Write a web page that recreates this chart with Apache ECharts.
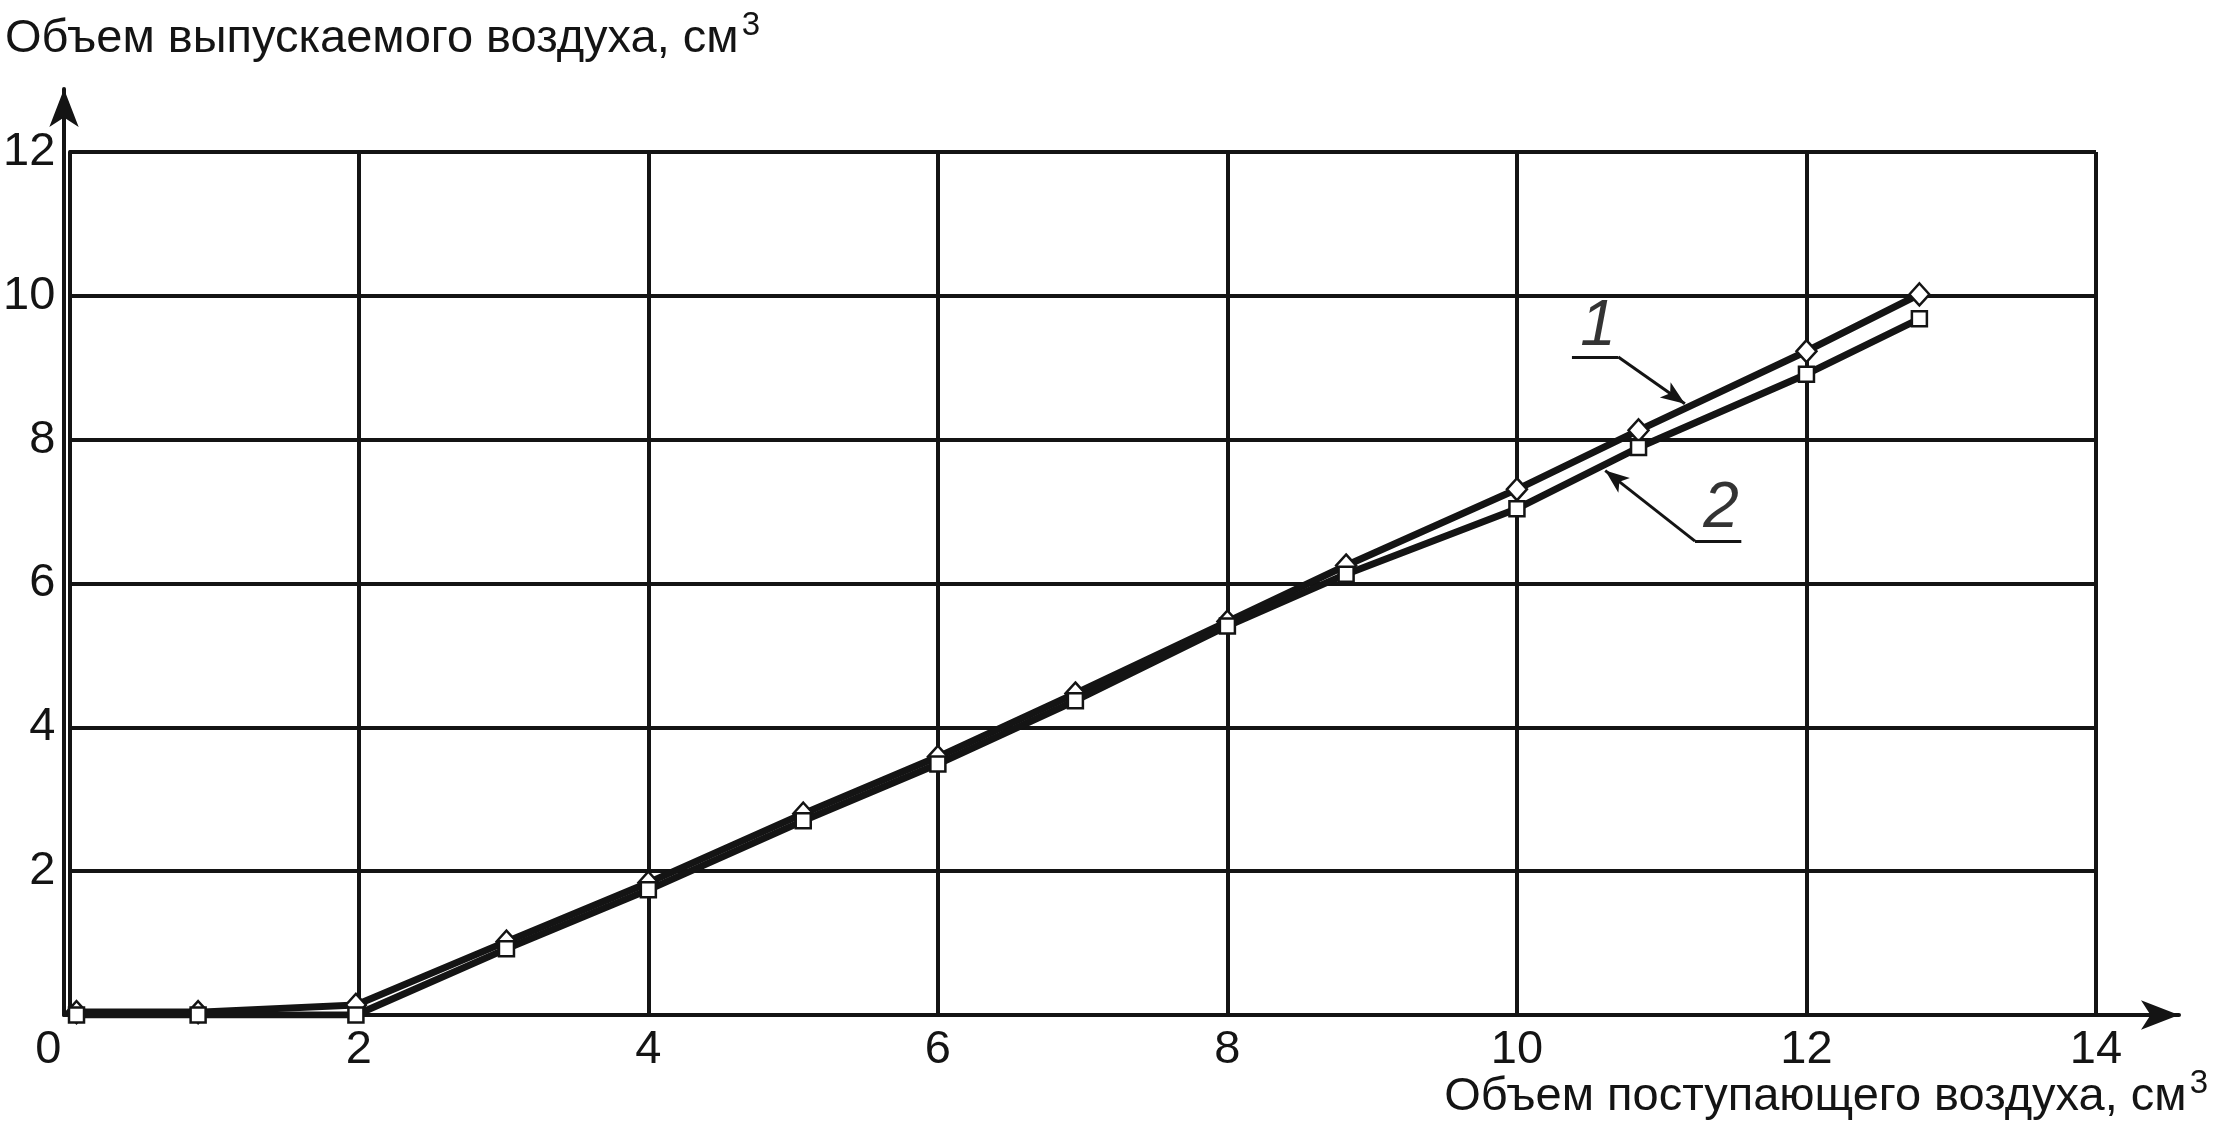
<!DOCTYPE html>
<html>
<head>
<meta charset="utf-8">
<script src="https://cdn.jsdelivr.net/npm/echarts@6/dist/echarts.min.js"></script>
<style>
  html, body { margin: 0; padding: 0; background: #ffffff; }
  #chart { width: 2213px; height: 1133px; }
</style>
</head>
<body>
<div id="chart"></div>
<script>
// ---- Data ----
const inflowVolume = [0.05, 0.89, 1.98, 3.02, 4.0, 5.07, 6.0, 6.95, 8.0, 8.82, 10.0, 10.84, 12.0, 12.78];
const outflowCurve1 = [0.04, 0.04, 0.14, 1.02, 1.84, 2.80, 3.59, 4.47, 5.47, 6.25, 7.31, 8.13, 9.23, 10.02];
const outflowCurve2 = [0.0, 0.0, 0.0, 0.92, 1.74, 2.70, 3.49, 4.37, 5.41, 6.13, 7.04, 7.89, 8.91, 9.68];
const xTicks = [0, 2, 4, 6, 8, 10, 12, 14];
const yTicks = [0, 2, 4, 6, 8, 10, 12];
const curveNames = ['1', '2'];
// annotation anchors (data coordinates): label centre, underline start/end, arrow tip
const label1 = [10.56, 9.57];
const leader1 = [[10.38, 9.15], [10.70, 9.15], [11.16, 8.50]];
const label2 = [11.41, 7.04];
const leader2 = [[11.55, 6.59], [11.23, 6.59], [10.61, 7.57]];
const yTitle = 'Объем выпускаемого воздуха, см';
const xTitle = 'Объем поступающего воздуха, см';

const FONT = "'Liberation Sans', Arial, sans-serif";
const INK = '#141414';

const chart = echarts.init(document.getElementById('chart'), null, { renderer: 'canvas' });

const pts1 = inflowVolume.map((x, i) => [x, outflowCurve1[i]]);
const pts2 = inflowVolume.map((x, i) => [x, outflowCurve2[i]]);

function leaderData(seg) {
  return [
    [{ coord: seg[0], symbol: 'none' }, { coord: seg[1], symbol: 'none' }],
    [{ coord: seg[1], symbol: 'none' }, { coord: seg[2], symbol: 'arrow' }]
  ];
}

const titleRich = {
  a: { fontFamily: FONT, fontSize: 47, fontWeight: 'normal', color: INK },
  s: { fontFamily: FONT, fontSize: 33, fontWeight: 'normal', color: INK, verticalAlign: 'top', padding: [0, 0, 28, 3] }
};

const option = {
  backgroundColor: '#ffffff',
  animation: false,
  textStyle: { fontFamily: FONT },
  title: [
    {
      left: 0, top: 4,
      text: '{a|' + yTitle + '}{s|3}',
      textStyle: { fontWeight: 'normal', rich: titleRich }
    },
    {
      right: 0, top: 1062,
      text: '{a|' + xTitle + '}{s|3}',
      textStyle: { fontWeight: 'normal', rich: titleRich }
    }
  ],
  grid: [
    { left: 64, right: 117, top: 152, bottom: 118, containLabel: false },
    { left: 64, right: 34, top: 89, bottom: 118, containLabel: false }
  ],
  xAxis: [
    {
      type: 'value', gridIndex: 0, min: xTicks[0], max: xTicks[xTicks.length - 1], interval: xTicks[1] - xTicks[0],
      axisLine: { show: true, lineStyle: { color: INK, width: 4 } },
      axisTick: { show: false },
      splitLine: { show: true, lineStyle: { color: INK, width: 4 } },
      axisLabel: {
        margin: 12, fontSize: 47, color: INK, fontFamily: FONT,
        formatter: v => (v === 0 ? '{z|0}' : String(v)),
        rich: { z: { fontSize: 47, color: INK, fontFamily: FONT, padding: [0, 42, 0, 0] } }
      }
    },
    {
      type: 'value', gridIndex: 1, min: 0, max: 1,
      axisLine: { show: true, symbol: ['none', 'arrow'], symbolSize: [22, 38], lineStyle: { color: INK, width: 4 } },
      axisTick: { show: false }, axisLabel: { show: false }, splitLine: { show: false }
    }
  ],
  yAxis: [
    {
      type: 'value', gridIndex: 0, min: yTicks[0], max: yTicks[yTicks.length - 1], interval: yTicks[1] - yTicks[0],
      axisLine: { show: true, lineStyle: { color: INK, width: 4 } },
      axisTick: { show: false },
      splitLine: { show: true, lineStyle: { color: INK, width: 4 } },
      axisLabel: {
        margin: 14, fontSize: 47, color: INK, fontFamily: FONT,
        formatter: v => (v === 0 ? '' : String(v))
      }
    },
    {
      type: 'value', gridIndex: 1, min: 0, max: 1,
      axisLine: { show: true, symbol: ['none', 'arrow'], symbolSize: [22, 38], lineStyle: { color: INK, width: 4 } },
      axisTick: { show: false }, axisLabel: { show: false }, splitLine: { show: false }
    }
  ],
  series: [
    {
      name: curveNames[0], type: 'line', xAxisIndex: 0, yAxisIndex: 0,
      data: pts1,
      symbol: 'diamond', symbolSize: [20, 22], showAllSymbol: true,
      lineStyle: { color: INK, width: 7 },
      itemStyle: { color: '#ffffff', borderColor: INK, borderWidth: 2.5 },
      z: 3
    },
    {
      name: curveNames[1], type: 'line', xAxisIndex: 0, yAxisIndex: 0,
      data: pts2,
      symbol: 'rect', symbolSize: 15, showAllSymbol: true,
      lineStyle: { color: INK, width: 7 },
      itemStyle: { color: '#ffffff', borderColor: INK, borderWidth: 2.5 },
      z: 4
    },
    {
      name: 'leaders', type: 'line', xAxisIndex: 0, yAxisIndex: 0, data: [],
      markLine: {
        silent: true, animation: false,
        symbol: ['none', 'none'], symbolSize: [14, 24],
        label: { show: false },
        lineStyle: { color: INK, width: 3, type: 'solid' },
        emphasis: { disabled: true },
        data: leaderData(leader1).concat(leaderData(leader2))
      },
      z: 5
    },
    {
      name: 'labels', type: 'scatter', xAxisIndex: 0, yAxisIndex: 0,
      symbolSize: 1, itemStyle: { color: 'rgba(0,0,0,0)' },
      data: [
        { value: label1, name: curveNames[0] },
        { value: label2, name: curveNames[1] }
      ],
      label: {
        show: true, position: 'inside', formatter: p => p.name,
        fontSize: 64, fontStyle: 'italic', color: '#000000', fontFamily: FONT
      },
      z: 6
    }
  ]
};

chart.setOption(option);
</script>
</body>
</html>
